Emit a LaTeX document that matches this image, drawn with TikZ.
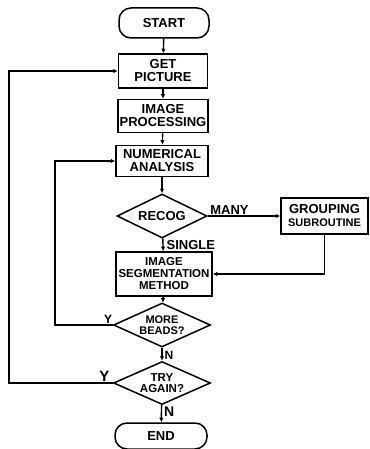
\documentclass[tikz,border=0pt]{standalone}
\usepackage{fontspec}
\setmainfont{Liberation Sans}
\usetikzlibrary{arrows.meta,positioning,shapes.geometric}

\begin{document}
\begin{tikzpicture}[
    x=1pt, y=-1pt,
    font=\bfseries\fontsize{13}{13}\selectfont,
    flow/.style={draw=black, line width=1.4pt, -{Latex[length=4.5pt,width=4.5pt]}},
    terminal/.style={
        draw=black,
        line width=1.5pt,
        rounded corners=12pt,
        minimum width=90pt,
        minimum height=30pt,
        inner sep=0pt
    },
    block/.style={
        draw=black,
        line width=1.5pt,
        minimum width=90pt,
        minimum height=33pt,
        align=center,
        inner sep=1pt
    },
    decision/.style={
        diamond,
        aspect=2,
        draw=black,
        line width=1.5pt,
        minimum width=97pt,
        minimum height=44pt,
        inner sep=0pt,
        align=center
    },
    tag/.style={font=\bfseries\fontsize{12}{12}\selectfont, inner sep=1pt}
]
\useasboundingbox (0,0) rectangle (369,449);

\node[terminal] (start) at (164,23) {START};
\node[block, minimum width=89pt, minimum height=34pt] (getpic) at (163,71) {GET\\PICTURE};
\node[block] (imgproc) at (163,116) {IMAGE\\PROCESSING};
\node[block, minimum width=92pt, minimum height=31pt] (numan) at (162,161) {NUMERICAL\\ANALYSIS};
\node[decision, minimum width=90pt] (recog) at (162,216) {RECOG};
\node[block, minimum width=87pt, minimum height=36pt] (group) at (324.5,216)
    {GROUPING\\{\fontsize{11}{12}\selectfont SUBROUTINE}};
\node[block, minimum width=96pt, minimum height=44pt,
    font=\bfseries\fontsize{11.5}{12}\selectfont] (segment) at (164,274)
    {IMAGE\\SEGMENTATION\\METHOD};
\node[decision, font=\bfseries\fontsize{11}{11}\selectfont] (beads) at (162,325) {MORE\\BEADS?};
\node[decision, minimum height=43pt, font=\bfseries\fontsize{11.5}{11.5}\selectfont] (again) at (162,383) {TRY\\AGAIN?};
\node[terminal, minimum width=92pt, minimum height=26pt] (stop) at (161,436) {END};

% loop corners
\coordinate (beadsloop) at (55,325);
\coordinate (againloop) at (9,383);

\draw[flow] (start) -- (getpic);
\draw[flow] (getpic) -- (imgproc);
\draw[flow] (imgproc) -- (numan);
\draw[flow] (numan) -- (recog);
\draw[flow] (recog) -- node[tag, anchor=west, pos=0.5, xshift=2pt, font=\bfseries\fontsize{13}{13}\selectfont] {SINGLE} (segment);
\draw[flow] (recog) -- node[tag, anchor=south, pos=0.3, font=\bfseries\fontsize{13}{13}\selectfont] {MANY} (group);
\draw[flow] (group) |- (segment);
\draw[flow] (segment) -- (beads);
\draw[flow] (beads) -- node[tag, anchor=west, pos=0.55, xshift=1pt] {N} (again);
\draw[flow] (again) -- node[tag, anchor=west, pos=0.4, xshift=1pt, font=\bfseries\fontsize{14}{14}\selectfont] {N} (stop);
\draw[flow] (beads.west) -- node[tag, anchor=south, pos=0.08] {Y} (beadsloop) |- (numan.west);
\draw[flow] (again.west) -- node[tag, anchor=south, pos=0.08, font=\bfseries\fontsize{15}{15}\selectfont] {Y} (againloop) |- (getpic.west);

\end{tikzpicture}
\end{document}
